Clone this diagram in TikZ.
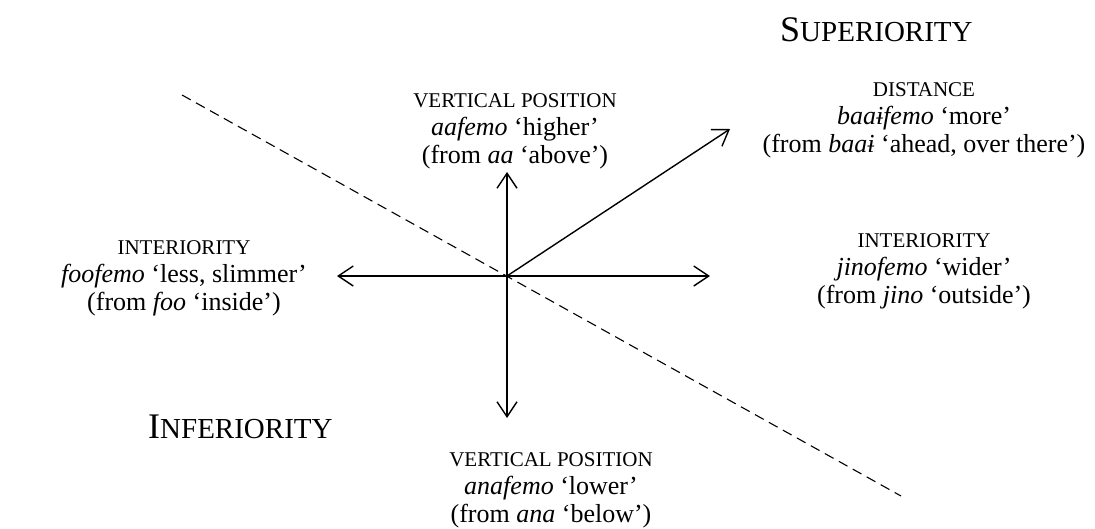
\documentclass[tikz,border=0pt]{standalone}
\usepackage{fontspec}
\setmainfont{Liberation Serif}
\usetikzlibrary{arrows.meta}
\newcommand{\smc}[1]{{\fontsize{21}{28}\selectfont #1}}
\begin{document}
\begin{tikzpicture}[x=1pt,y=-1pt,
  lbl/.style={align=center,inner sep=0pt,anchor=north,font=\fontsize{26}{28}\selectfont},
  big/.style={inner sep=0pt,anchor=base west},
  arr/.style={line width=1.4pt,-{Straight Barb[length=15pt,width=20pt]}},
  divider/.style={line width=1.1pt,dash pattern=on 10pt off 6pt}]
\useasboundingbox (0,0) rectangle (1095,528);
% coordinates
\coordinate (C) at (507,276);
\coordinate (R) at (710,276);
\coordinate (L) at (337,276);
\coordinate (U) at (507,172);
\coordinate (D) at (507,418);
\coordinate (NE) at (730,129);
\coordinate (dA) at (182,95);
\coordinate (dB) at (901,496);
% dashed divider
\draw[divider] (dA) -- (dB);
% arrows
\draw[arr] (C) -- (R);
\draw[arr] (C) -- (L);
\draw[arr] (C) -- (U);
\draw[arr] (C) -- (D);
\draw[arr] (C) -- (NE);
% big labels
\node[big] (sup) at (780,41) {\fontsize{36}{36}\selectfont S\fontsize{29}{29}\selectfont UPERIORITY};
\node[big] (inf) at (148,438) {\fontsize{36}{36}\selectfont I\fontsize{29}{29}\selectfont NFERIORITY};
% text blocks
\node[lbl] (vtop) at (515,93) {\smc{VERTICAL POSITION}\\ \textit{aafemo} ‘higher’\\ (from \textit{aa} ‘above’)};
\node[lbl] (dist) at (924,82) {\smc{DISTANCE}\\ \textit{baaɨfemo} ‘more’\\ (from \textit{baaɨ} ‘ahead, over there’)};
\node[lbl] (intl) at (184,240) {\smc{INTERIORITY}\\ \textit{foofemo} ‘less, slimmer’\\ (from \textit{foo} ‘inside’)};
\node[lbl] (intr) at (924,233) {\smc{INTERIORITY}\\ \textit{jinofemo} ‘wider’\\ (from \textit{jino} ‘outside’)};
\node[lbl] (vbot) at (551,452) {\smc{VERTICAL POSITION}\\ \textit{anafemo} ‘lower’\\ (from \textit{ana} ‘below’)};
\end{tikzpicture}
\end{document}
